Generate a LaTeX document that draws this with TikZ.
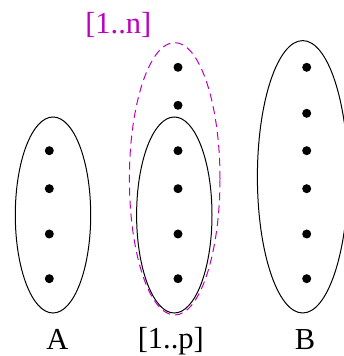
\documentclass[tikz,border=0pt]{standalone}
\usepackage{fontspec}
\setmainfont{Liberation Serif}
\usetikzlibrary{shapes.geometric,positioning}
\definecolor{SetMagenta}{RGB}{192,0,192}
\tikzset{
  set/.style={draw=black,ellipse,line width=1pt,inner sep=0pt,
    minimum width=75.4pt,minimum height=196pt},
  bigset/.style={draw=black,ellipse,line width=1pt,inner sep=0pt,
    minimum width=90.6pt,minimum height=272.4pt},
  spanset/.style={bigset,draw=SetMagenta,dash pattern=on 8pt off 5pt},
  elem/.style={circle,fill=black,inner sep=0pt,minimum size=9pt},
  tag/.style={font=\fontsize{30.5}{36}\selectfont,anchor=base,inner sep=0pt}
}

\begin{document}
\begin{tikzpicture}[x=1pt,y=1pt]
      \useasboundingbox (0,0) rectangle (343,356);
      \node[set] (A) at (53,141) {};
      \node[set] (P) at (174.3,141) {};
      \node[spanset] (N) at (174.7,177.2) {};
      \node[bigset] (B) at (302.7,179.2) {};
      % elements
      \foreach \y [count=\i] in {205.3,167.3,122,77.3}
        \node[elem] (a\i) at (49.3,\y) {};
      \foreach \y [count=\i] in {288.7,250.7,205.3,167.3,122,77.3}
        \node[elem] (p\i) at (178,\y) {};
      \foreach \y [count=\i] in {288.7,242.7,205.3,167.3,122,77.3}
        \node[elem] (b\i) at (306.7,\y) {};
      \node[tag] (la) at (57.5,6.5) {A};
      \node[tag] (lp) at (170.8,7.5) {[1..p]};
      \node[tag] (lb) at (305,6.5) {B};
      \node[tag,text=SetMagenta] (ln) at (118.3,322.5) {[1..n]};
    \end{tikzpicture}
\end{document}
